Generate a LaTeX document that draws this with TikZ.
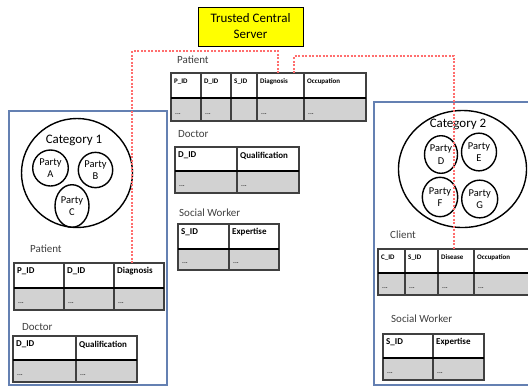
\documentclass[tikz,border=0pt]{standalone}
\usepackage{fontspec}
\setmainfont{Carlito}
\usetikzlibrary{shapes.geometric}
\definecolor{boxblue}{RGB}{100,128,178}
\definecolor{linkred}{RGB}{255,110,110}
\definecolor{gridgray}{RGB}{64,64,64}
\definecolor{cellgray}{RGB}{210,210,210}
\definecolor{labelgray}{RGB}{64,64,64}
\definecolor{srvyellow}{RGB}{255,255,0}
\newcommand\tcol[9]{%
  \node[hcell, minimum width=#3bp, minimum height=#5bp, anchor=north west] (#1h) at (#2,#4) {};
  \node[dcell, minimum width=#3bp, minimum height=#6bp, anchor=north west] (#1d) at (#1h.south west) {};
  \node[htext, font=\fontsize{#9}{#9}\selectfont\bfseries, anchor=west] (#1t) at ([xshift=3bp,yshift=-8.5bp]#1h.north west) {#7};
  \node[dtext, anchor=base west] (#1v) at ([xshift=4bp,yshift=7bp]#1d.south west) {#8};
}
\begin{document}
\begin{tikzpicture}[x=1bp,y=-1bp,
  hcell/.style={draw=gridgray, line width=1.1bp, fill=white, outer sep=0pt, inner sep=0pt},
  dcell/.style={draw=gridgray, line width=1.1bp, fill=cellgray, outer sep=0pt, inner sep=0pt},
  htext/.style={inner sep=0pt, text=black},
  dtext/.style={inner sep=0pt, text=gridgray, font=\fontsize{7}{7}\selectfont\bfseries},
  tlabel/.style={inner sep=0pt, anchor=west, text=labelgray, font=\fontsize{11}{11}\selectfont},
  sepline/.style={line width=2bp, black},
  frame/.style={draw=boxblue, line width=1.2bp, rectangle, outer sep=0pt, inner sep=0pt, anchor=north west},
  cat/.style={ellipse, draw=black, line width=1.4bp, inner sep=0pt},
  catlabel/.style={inner sep=0pt, font=\fontsize{13}{13}\selectfont},
  party/.style={ellipse, draw=black, line width=1.4bp, inner sep=0pt, align=center, font=\fontsize{10.5}{12.5}\selectfont},
  link/.style={draw=linkred, line width=1.3bp, dash pattern=on 2bp off 1.5bp},
  server/.style={draw=black, fill=srvyellow, line width=1bp, minimum width=105bp, minimum height=39bp, align=center, inner sep=0pt, font=\fontsize{13}{16}\selectfont}
]
\useasboundingbox (0,0) rectangle (528,387);
\clip (0,0) rectangle (528,387);
\fill[white] (0,0) rectangle (528,387);

% frames
\node[frame, minimum width=158bp, minimum height=274bp] (leftframe) at (9,111) {};
\node[frame, minimum width=157bp, minimum height=283bp] (rightframe) at (374,102) {};

% category 1
\node[cat, minimum width=111bp, minimum height=109bp] (cat1) at (77,173) {};
\node[catlabel] (cat1lab) at (74,140) {Category 1};
\node[party, minimum width=35.6bp, minimum height=36bp] (pA) at (50.5,168) {Party\\A};
\node[party, minimum width=34.4bp, minimum height=35.3bp] (pB) at (95.5,170) {Party\\B};
\node[party, minimum width=34bp, minimum height=42.6bp] (pC) at (72,206) {Party\\C};

% category 2
\node[cat, minimum width=128bp, minimum height=117bp] (cat2) at (462.5,169) {};
\node[catlabel] (cat2lab) at (458,124) {Category 2};
\node[party, minimum width=33bp, minimum height=37.6bp] (pD) at (441,154.5) {Party\\D};
\node[party, minimum width=35bp, minimum height=37.7bp] (pE) at (479,152) {Party\\E};
\node[party, minimum width=35.4bp, minimum height=39.4bp] (pF) at (440,197) {Party\\F};
\node[party, minimum width=36bp, minimum height=37.7bp] (pG) at (479.7,199) {Party\\G};

% central patient table
\node[tlabel] (cplab) at (177,60) {Patient};
\tcol{cp1}{171}{30}{73}{25}{23}{P\_ID}{...}{7}
\tcol{cp2}{201}{30}{73}{25}{23}{D\_ID}{...}{7}
\tcol{cp3}{231}{26}{73}{25}{23}{S\_ID}{}{7}
\tcol{cp4}{257}{47}{73}{25}{23}{Diagnosis}{...}{7}
\tcol{cp5}{304}{62}{73}{25}{23}{Occupation}{...}{7}
\draw[sepline] (cp1h.south west) -- (cp5h.south east);

% central doctor
\node[tlabel] (cdlab) at (178,134) {Doctor};
\tcol{cd1}{175}{62}{147}{24}{22}{D\_ID}{...}{9}
\tcol{cd2}{237}{62}{147}{24}{22}{Qualification}{...}{9}
\draw[sepline] (cd1h.south west) -- (cd2h.south east);

% central social worker
\node[tlabel] (cslab) at (179,213) {Social Worker};
\tcol{cs1}{178}{51}{224}{25}{21}{S\_ID}{...}{9}
\tcol{cs2}{229}{50}{224}{25}{21}{Expertise}{...}{9}
\draw[sepline] (cs1h.south west) -- (cs2h.south east);

% left patient
\node[tlabel] (lplab) at (30,249) {Patient};
\tcol{lp1}{14}{50}{263}{25}{22}{P\_ID}{...}{9}
\tcol{lp2}{64}{50}{263}{25}{22}{D\_ID}{...}{9}
\tcol{lp3}{114}{50}{263}{25}{22}{Diagnosis}{...}{9}
\draw[sepline] (lp1h.south west) -- (lp3h.south east);

% left doctor
\node[tlabel] (ldlab) at (22,327) {Doctor};
\tcol{ld1}{13}{63}{336}{24}{22}{D\_ID}{...}{9}
\tcol{ld2}{76}{61}{336}{24}{22}{Qualification}{...}{9}
\draw[sepline] (ld1h.south west) -- (ld2h.south east);

% client
\node[tlabel] (cllab) at (390,235) {Client};
\tcol{cl1}{378}{27}{249}{24}{22}{C\_ID}{...}{7}
\tcol{cl2}{405}{33}{249}{24}{22}{S\_ID}{...}{7}
\tcol{cl3}{438}{36}{249}{24}{22}{Disease}{...}{7}
\tcol{cl4}{474}{56}{249}{24}{22}{Occupation}{...}{7}
\draw[sepline] (cl1h.south west) -- (cl4h.south east);

% right social worker
\node[tlabel] (rslab) at (391,319) {Social Worker};
\tcol{rs1}{383}{50}{334}{24}{22}{S\_ID}{...}{9}
\tcol{rs2}{433}{51}{334}{24}{22}{Expertise}{...}{9}
\draw[sepline] (rs1h.south west) -- (rs2h.south east);

% links
\draw[link] ([xshift=-2.5bp]cp4h.north) -- ++(0,-22) -| ([xshift=-7bp]lp3h.north);
\draw[link] ([xshift=13.5bp]cp4h.north) -- ++(0,-17) -| ([xshift=-2bp]cl3h.north);

% server
\node[server] (srv) at (250.5,26.5) {Trusted Central\\Server};
\end{tikzpicture}
\end{document}
